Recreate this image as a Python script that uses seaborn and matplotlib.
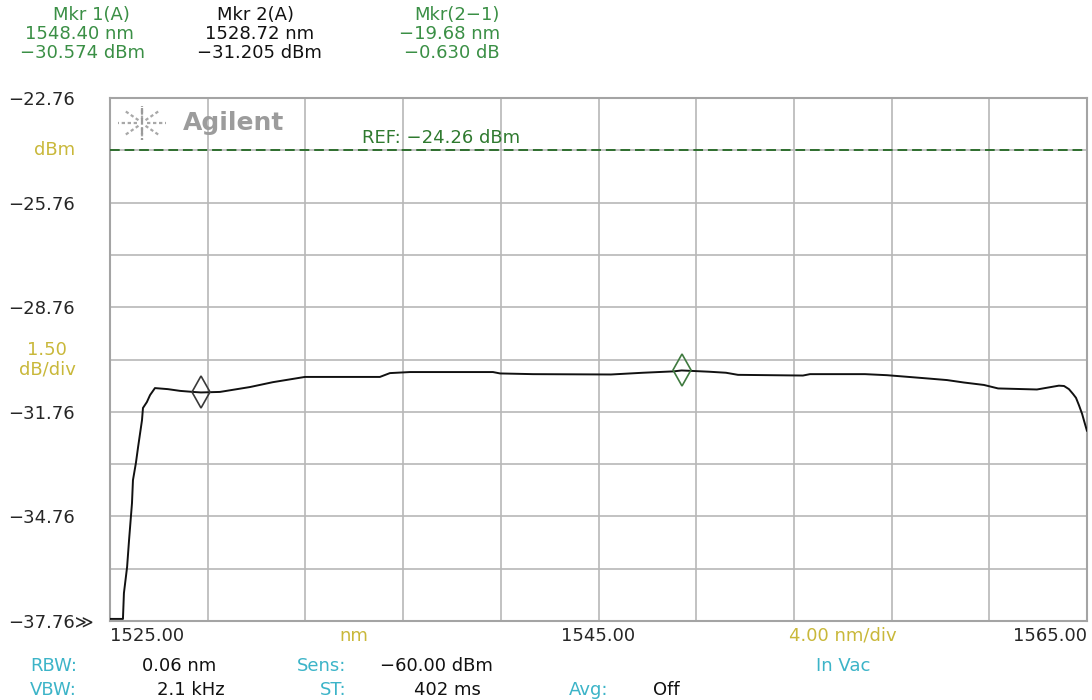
import numpy as np
import matplotlib
matplotlib.use("Agg")
import matplotlib.pyplot as plt
import matplotlib.transforms as mtransforms
from matplotlib.lines import Line2D
import seaborn as sns

# Trace (wavelength in nm, power in dBm)
wavelength_nm = [1525.00, 1525.53, 1525.57, 1525.70, 1525.78, 1525.90, 1525.94, 1526.06,
                 1526.15, 1526.31, 1526.35, 1526.51, 1526.64, 1526.84, 1527.37, 1527.87,
                 1528.40, 1528.72, 1529.50, 1530.73, 1531.67, 1532.98, 1536.05, 1536.46,
                 1537.28, 1540.68, 1540.97, 1542.32, 1545.51, 1546.82, 1548.09, 1548.40,
                 1549.52, 1550.22, 1550.71, 1553.37, 1553.66, 1555.91, 1556.81, 1557.88,
                 1558.41, 1559.27, 1559.96, 1560.78, 1561.36, 1562.95, 1563.44, 1563.85,
                 1564.06, 1564.26, 1564.43, 1564.55, 1564.67, 1564.80, 1564.88, 1565.00]
power_dbm = [-37.70, -37.70, -36.96, -36.21, -35.44, -34.38, -33.72, -33.23,
             -32.77, -32.00, -31.65, -31.48, -31.28, -31.08, -31.11, -31.16,
             -31.19, -31.205, -31.19, -31.05, -30.91, -30.76, -30.76, -30.65,
             -30.62, -30.62, -30.66, -30.68, -30.69, -30.64, -30.60, -30.574,
             -30.61, -30.64, -30.70, -30.72, -30.68, -30.68, -30.71, -30.77,
             -30.80, -30.85, -30.92, -30.99, -31.09, -31.12, -31.06, -31.01,
             -31.02, -31.11, -31.25, -31.36, -31.57, -31.82, -32.02, -32.31]

marker_wl = [1548.40, 1528.72]
marker_dbm = [-30.574, -31.205]
marker_colors = ["#3f7a3f", "#3a3a3a"]

ref_level = -24.26
x_start, x_stop, nm_per_div = 1525.0, 1565.0, 4.0

y_grid = [-22.76, -24.26, -25.76, -27.26, -28.76, -30.26, -31.76, -33.26, -34.76, -36.26, -37.76]
y_labels = ["−22.76", "", "−25.76", "", "−28.76", "", "−31.76", "", "−34.76", "", "−37.76≫"]
x_label_pos = [1525, 1535, 1545, 1555, 1565]
x_labels = ["1525.00", "nm", "1545.00", "4.00 nm/div", "1565.00"]

GREEN = "#3a8f45"
YELLOW = "#c9b83a"
CYAN = "#3cb4c8"
GRID = "#b8b8b8"

sns.set_style("white")
plt.rcParams['font.family'] = ['DejaVu Sans']
plt.rcParams['font.size'] = 13

W, H = 1092, 700
fig = plt.figure(figsize=(W / 100, H / 100), dpi=100)
ax = fig.add_axes([110 / W, 79 / H, 977 / W, 523 / H])

sns.lineplot(x=wavelength_nm, y=power_dbm, ax=ax, color="#111111", linewidth=1.4,
             sort=False, estimator=None, zorder=4)
for wl, p, c in zip(marker_wl, marker_dbm, marker_colors):
    ax.plot([wl], [p], marker="d", ms=16, mfc="none", mec=c, mew=1.2, ls="none", zorder=5)

ax.axhline(ref_level, color="#2e6e2e", lw=1.4, ls=(0, (5, 2.5)), zorder=3)
ax.text(1535.3, -23.91, "REF: −24.26 dBm", color="#2f7a2f", va="center", ha="left", fontsize=13)

ax.set_xlim(x_start, x_stop)
ax.set_ylim(y_grid[-1], y_grid[0])

# grid every division, labels at OSA positions
ax.set_xticks(np.arange(x_start, x_stop + 0.1, nm_per_div), minor=True)
ax.xaxis.remove_overlapping_locs = False
ax.set_xticks(x_label_pos)
ax.set_xticklabels(x_labels)
ax.set_yticks(y_grid)
ax.set_yticklabels(y_labels)
ax.grid(False)
ax.grid(True, which="minor", axis="x", color=GRID, lw=1.2)
ax.grid(True, which="major", axis="y", color=GRID, lw=1.2)
ax.set_axisbelow(True)
ax.tick_params(axis="both", which="both", length=0)
ax.tick_params(axis="x", pad=4)
ax.tick_params(axis="y", pad=73)

for lab in ax.get_yticklabels():
    lab.set_ha("left")
xl = ax.get_xticklabels()
xl[0].set_ha("left")
xl[-1].set_ha("right")
xl[1].set_color(YELLOW)
xl[3].set_color(YELLOW)

for s in ax.spines.values():
    s.set_visible(True)
    s.set_color("#a4a4a4")
    s.set_linewidth(1.5)

# left-side yellow labels
yt = mtransforms.blended_transform_factory(fig.transFigure, ax.transData)
ax.text(55 / W, -24.26, "dBm", transform=yt, color=YELLOW, ha="center", va="center")
ax.text(47 / W, -30.26, "1.50\ndB/div", transform=yt, color=YELLOW, ha="center", va="center",
        multialignment="center", linespacing=1.1)


def ftext(px, py, s, color="#111111", ha="left", **kw):
    fig.text(px / W, 1 - py / H, s, color=color, ha=ha, va="center", **kw)


# marker readout
ftext(53, 15, "Mkr 1(A)", GREEN)
ftext(25, 34, "1548.40 nm", GREEN)
ftext(20, 53, "−30.574 dBm", GREEN)
ftext(217, 15, "Mkr 2(A)")
ftext(205, 34, "1528.72 nm")
ftext(197, 53, "−31.205 dBm")
ftext(500, 15, "Mkr(2−1)", GREEN, ha="right")
ftext(500, 34, "−19.68 nm", GREEN, ha="right")
ftext(500, 53, "−0.630 dB", GREEN, ha="right")

# settings readout
ftext(30, 666, "RBW:", CYAN)
ftext(142, 666, "0.06 nm")
ftext(297, 666, "Sens:", CYAN)
ftext(380, 666, "−60.00 dBm")
xt = mtransforms.blended_transform_factory(ax.transData, fig.transFigure)
fig.text(1555, 1 - 666 / H, "In Vac", transform=xt, color=CYAN, ha="center", va="center")
ftext(30, 690, "VBW:", CYAN)
ftext(157, 690, "2.1 kHz")
ftext(320, 690, "ST:", CYAN)
ftext(414, 690, "402 ms")
ftext(569, 690, "Avg:", CYAN)
ftext(653, 690, "Off")

# Agilent logo
ftext(183, 123, "Agilent", "#9c9c9c", fontsize=18, fontweight="bold")
cx, cy = 142, 123
for ang in np.deg2rad(np.arange(0, 360, 45)):
    x0, y0 = cx + 5 * np.cos(ang), cy + 4 * np.sin(ang)
    x1, y1 = cx + 24 * np.cos(ang), cy + 17 * np.sin(ang)
    fig.add_artist(Line2D([x0 / W, x1 / W], [1 - y0 / H, 1 - y1 / H], transform=fig.transFigure,
                          color="#a8a8a8", lw=1.6, ls=(0, (1.5, 1.2))))
fig.add_artist(Line2D([cx / W, cx / W], [1 - 108 / H, 1 - 140 / H], transform=fig.transFigure,
                      color="#9a9a9a", lw=1.6, ls=(0, (3, 1.5))))

fig.savefig("out.png", dpi=100, facecolor="white")
